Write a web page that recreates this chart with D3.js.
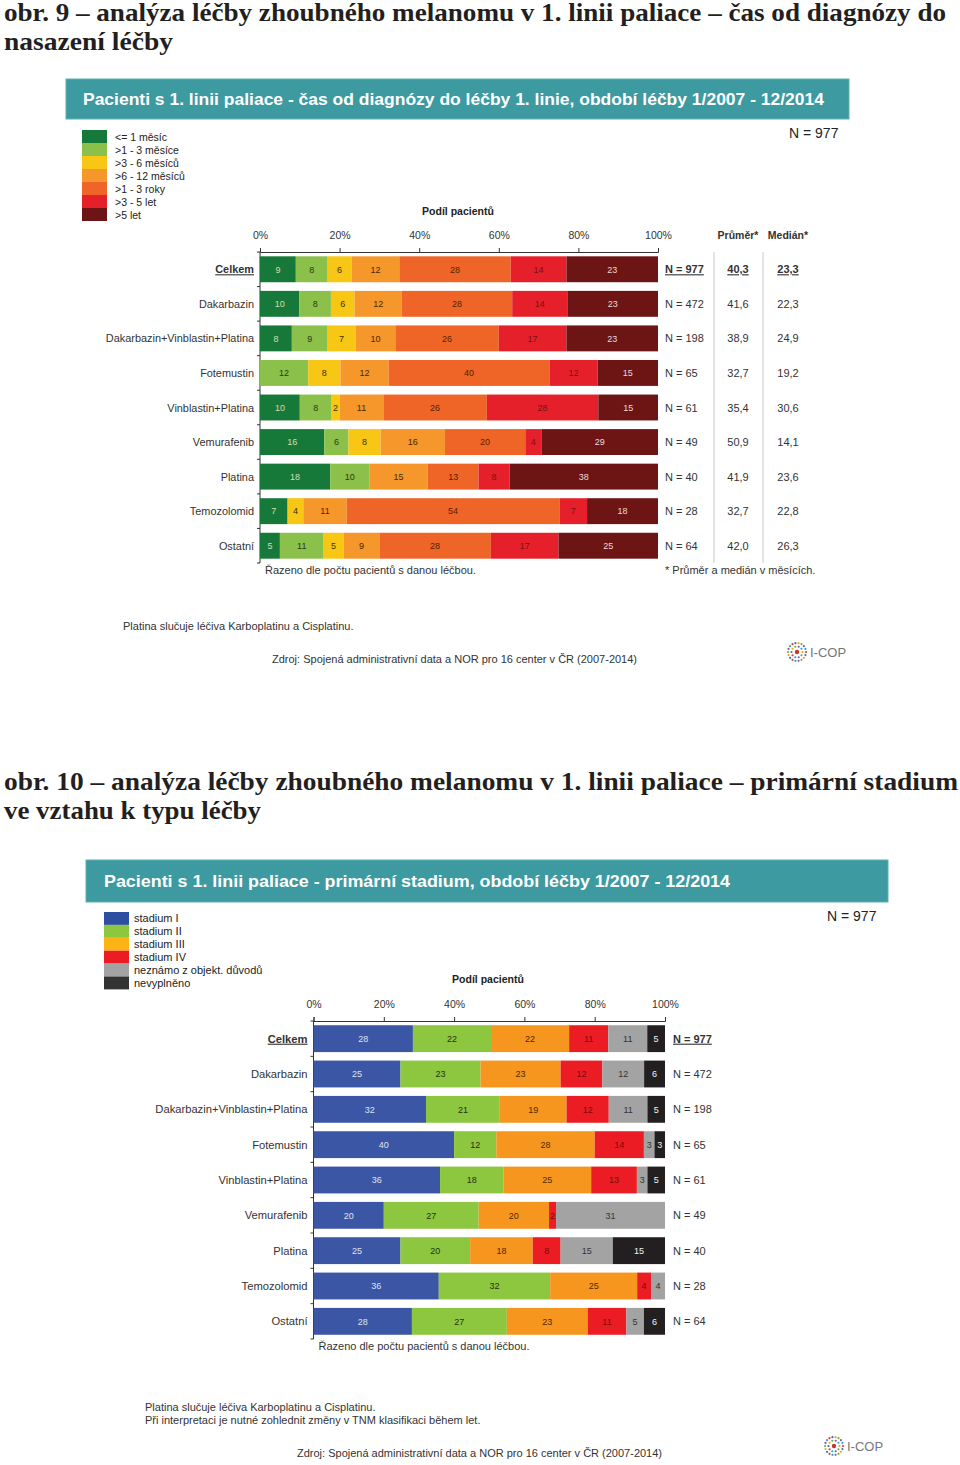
<!DOCTYPE html>
<html><head><meta charset="utf-8">
<script src="https://cdn.jsdelivr.net/npm/d3@7"></script>
<style>body{margin:0;background:#fff} svg{display:block} text{font-family:"Liberation Sans",Arial,sans-serif}</style>
</head><body><svg id="c" width="960" height="1465"></svg>
<script>
// ---------- DATA ----------
const categories = ["Celkem","Dakarbazin","Dakarbazin+Vinblastin+Platina","Fotemustin","Vinblastin+Platina","Vemurafenib","Platina","Temozolomid","Ostatní"];
const tickLabels = ["0%","20%","40%","60%","80%","100%"];
const nLabels = ["N = 977","N = 472","N = 198","N = 65","N = 61","N = 49","N = 40","N = 28","N = 64"];

// Chart 1 (obr. 9): time from diagnosis to treatment, % of patients
const durationSeries = ["<= 1 měsíc",">1 - 3 měsíce",">3 - 6 měsíců",">6 - 12 měsíců",">1 - 3 roky",">3 - 5 let",">5 let"];
const durUpTo1m   = [9,10,8,0,10,16,18,7,5];
const dur1to3m    = [8,8,9,12,8,6,10,0,11];
const dur3to6m    = [6,6,7,8,2,8,0,4,5];
const dur6to12m   = [12,12,10,12,11,16,15,11,9];
const dur1to3y    = [28,28,26,40,26,20,13,54,28];
const dur3to5y    = [14,14,17,12,28,4,8,7,17];
const durOver5y   = [23,23,23,15,15,29,38,18,25];
const meanMonths   = ["40,3","41,6","38,9","32,7","35,4","50,9","41,9","32,7","42,0"];
const medianMonths = ["23,3","22,3","24,9","19,2","30,6","14,1","23,6","22,8","26,3"];

// Chart 2 (obr. 10): primary stage, % of patients
const stageSeries = ["stadium I","stadium II","stadium III","stadium IV","neznámo z objekt. důvodů","nevyplněno"];
const stageI    = [28,25,32,40,36,20,25,36,28];
const stageII   = [22,23,21,12,18,27,20,32,27];
const stageIII  = [22,23,19,28,25,20,18,25,23];
const stageIV   = [11,12,12,14,13,2,8,4,11];
const stageUnk  = [11,12,11,3,3,31,15,4,5];
const stageNA   = [5,6,5,3,5,0,15,0,6];

// ---------- DRAWING ----------
const svg = d3.select("#c");
svg.append("rect").attr("width",960).attr("height",1465).attr("fill","#fff");

function heading(lines, ys, widths){
  lines.forEach((t,i)=>{
    const el = svg.append("text").attr("x",4).attr("y",ys[i])
      .style("font-family","'Liberation Serif','DejaVu Serif',serif")
      .attr("font-weight","bold").attr("font-size",25).attr("fill","#231f20").text(t);
    if(widths[i]) el.attr("textLength",widths[i]).attr("lengthAdjust","spacingAndGlyphs");
  });
}

function chart(o){
  const g = svg.append("g");
  // teal header
  g.append("rect").attr("x",o.hx0).attr("y",o.hy0).attr("width",o.hx1-o.hx0).attr("height",o.hh)
    .attr("fill","#3d9aa1").attr("stroke","#5fb0b5").attr("stroke-width",1);
  g.append("text").attr("x",o.htx).attr("y",o.hy0+o.hh/2+6).attr("fill","#fff").attr("font-weight","bold")
    .attr("font-size",17).attr("textLength",o.htw).attr("lengthAdjust","spacingAndGlyphs").text(o.title);
  g.append("text").attr("x",o.nTotX).attr("y",o.nTotY).attr("font-size",14).attr("fill","#222").text("N = 977");

  // legend
  const lg = g.append("g");
  o.series.forEach((s,i)=>{
    lg.append("rect").attr("x",o.lx).attr("y",o.ly+i*o.lstep).attr("width",25).attr("height",o.lstep).attr("fill",o.legendColors[i]);
    lg.append("text").attr("x",o.lx+o.ltx).attr("y",o.ly+i*o.lstep+o.lstep-2.5).attr("font-size",o.lfs).attr("fill","#222").text(s);
  });

  // data
  const rows = categories.map((c,i)=>{const r={cat:c}; o.series.forEach((s,j)=>r[s]=o.values[j][i]); return r;});
  const layers = d3.stack().keys(o.series).offset(d3.stackOffsetExpand)(rows);
  const x = d3.scaleLinear().domain([0,1]).range([o.x0,o.x1]);
  const pad = o.pad;
  const y = d3.scaleBand().domain(categories).range([o.y0,o.y1]).paddingInner(pad).paddingOuter(pad/2);

  g.append("text").attr("x",o.podilX).attr("y",o.podilY).attr("text-anchor","middle").attr("font-weight","bold")
    .attr("font-size",10.5).attr("fill","#222").text("Podíl pacientů");

  // top axis
  const xAxis = d3.axisTop(x).tickValues(d3.range(0,1.0001,0.2)).tickFormat((d,i)=>tickLabels[i]).tickSize(4).tickPadding(9);
  const ax = g.append("g").attr("transform",`translate(0,${o.y0})`).call(xAxis);
  ax.selectAll("path,line").attr("stroke","#333");
  ax.selectAll("text").attr("font-size",10.5).attr("fill","#333").attr("font-family","'Liberation Sans',Arial,sans-serif");

  // left axis line with ticks at band boundaries
  g.append("line").attr("x1",o.x0).attr("x2",o.x0).attr("y1",o.y0).attr("y2",o.y1).attr("stroke","#333");
  g.selectAll(".lt").data(d3.range(categories.length+1)).join("line")
    .attr("x1",o.x0-3).attr("x2",o.x0).attr("y1",i=>o.y0+i*y.step()).attr("y2",i=>o.y0+i*y.step()).attr("stroke","#333");

  // bars
  layers.forEach((L,j)=>{
    const lyr = g.append("g");
    lyr.selectAll("rect").data(L).join("rect")
      .attr("x",d=>x(d[0])).attr("y",d=>y(d.data.cat)).attr("width",d=>x(d[1])-x(d[0])).attr("height",y.bandwidth())
      .attr("fill",o.colors[j]);
    lyr.selectAll("text").data(L.filter(d=>d.data[o.series[j]]>0)).join("text")
      .attr("x",d=>(x(d[0])+x(d[1]))/2).attr("y",d=>y(d.data.cat)+y.bandwidth()/2+3.3)
      .attr("text-anchor","middle").attr("font-size",9).attr("fill",o.labelColors[j])
      .text(d=>d.data[o.series[j]]);
  });

  // category labels
  g.selectAll(".cl").data(categories).join("text")
    .attr("x",o.x0-6).attr("y",d=>y(d)+y.bandwidth()/2+4).attr("text-anchor","end")
    .attr("font-size",o.cfs).attr("fill","#333")
    .attr("font-weight",(d,i)=>i===0?"bold":null)
    .attr("text-decoration",(d,i)=>i===0?"underline":null)
    .text(d=>d);
  // N labels
  g.selectAll(".nl").data(nLabels).join("text")
    .attr("x",o.nX).attr("y",(d,i)=>y(categories[i])+y.bandwidth()/2+4)
    .attr("font-size",11).attr("fill","#333")
    .attr("font-weight",(d,i)=>i===0?"bold":null)
    .attr("text-decoration",(d,i)=>i===0?"underline":null)
    .text(d=>d);

  if(o.stats){
    [[o.stats.meanX,meanMonths,"Průměr*"],[o.stats.medX,medianMonths,"Medián*"]].forEach(([cx,vals,hdr])=>{
      g.append("text").attr("x",cx).attr("y",o.tickY).attr("text-anchor","middle").attr("font-weight","bold")
        .attr("font-size",10.5).attr("fill","#333").text(hdr);
      g.selectAll(null).data(vals).join("text")
        .attr("x",cx).attr("y",(d,i)=>y(categories[i])+y.bandwidth()/2+4).attr("text-anchor","middle")
        .attr("font-size",11).attr("fill","#333")
        .attr("font-weight",(d,i)=>i===0?"bold":null)
        .attr("text-decoration",(d,i)=>i===0?"underline":null)
        .text(d=>d);
    });
    o.stats.lines.forEach(lx=>g.append("line").attr("x1",lx).attr("x2",lx).attr("y1",o.y0).attr("y2",o.y1).attr("stroke","#c8c8c8"));
    g.append("text").attr("x",o.nX).attr("y",o.y1+11).attr("font-size",11).attr("fill","#333").text("* Průměr a medián v měsících.");
  }
  g.append("text").attr("x",o.x0+5).attr("y",o.y1+11).attr("font-size",11).attr("fill","#333").text("Řazeno dle počtu pacientů s danou léčbou.");

  o.notes.forEach((t,i)=>g.append("text").attr("x",o.noteX).attr("y",o.noteY+i*13).attr("font-size",11).attr("fill","#333").text(t));
  g.append("text").attr("x",o.srcX).attr("y",o.srcY).attr("font-size",11).attr("fill","#333").text("Zdroj: Spojená administrativní data a NOR pro 16 center v ČR (2007-2014)");

  // logo
  const lgx=o.logoX, lgy=o.logoY;
  const lc=["#e23b2a","#3d6fb4","#f2a31b","#6cb33f","#8a5aa8","#2aa7c8"];
  d3.range(18).forEach(k=>{const a=k/18*Math.PI*2; g.append("circle").attr("cx",lgx+Math.cos(a)*9).attr("cy",lgy+Math.sin(a)*9).attr("r",1.1).attr("fill",lc[k%6]);});
  d3.range(10).forEach(k=>{const a=k/10*Math.PI*2; g.append("circle").attr("cx",lgx+Math.cos(a)*5.5).attr("cy",lgy+Math.sin(a)*5.5).attr("r",1.1).attr("fill",lc[(k+2)%6]);});
  g.append("circle").attr("cx",lgx).attr("cy",lgy).attr("r",2.2).attr("fill","#c0392b");
  g.append("text").attr("x",lgx+13).attr("y",lgy+5).attr("font-size",13).attr("fill","#777").text("I-COP");
}

heading(["obr. 9 – analýza léčby zhoubného melanomu v 1. linii paliace – čas od diagnózy do","nasazení léčby"],[21,50],[942,169]);
chart({
  title:"Pacienti s 1. linii paliace - čas od diagnózy do léčby 1. linie, období léčby 1/2007 - 12/2014",
  hx0:66,hx1:849,hy0:79,hh:40,htx:83,htw:741, nTotX:789,nTotY:138,
  series:durationSeries, values:[durUpTo1m,dur1to3m,dur3to6m,dur6to12m,dur1to3y,dur3to5y,durOver5y],
  colors:["#16793a","#8bc04a","#f8c614","#f5972a","#ef6527","#e5202b","#6d1414"],
  legendColors:["#16793a","#8bc04a","#f8c614","#f5972a","#ef6527","#e5202b","#6d1414"],
  labelColors:["#d7dcae","#2b3a12","#3b3000","#4a2800","#5a1e00","#7a1010","#eadada"],
  lx:82,ly:130,lstep:13,ltx:33,lfs:10.5,cfs:10.9,
  x0:260,x1:658,y0:252,y1:563,pad:0.25,
  podilX:458,podilY:215,tickY:239,
  nX:665, stats:{meanX:738,medX:788,lines:[714,763]},
  notes:["Platina slučuje léčiva Karboplatinu a Cisplatinu."], noteX:123,noteY:630,
  srcX:272,srcY:663, logoX:797,logoY:652
});

heading(["obr. 10 – analýza léčby zhoubného melanomu v 1. linii paliace – primární stadium","ve vztahu k typu léčby"],[790,819],[954,257]);
chart({
  title:"Pacienti s 1. linii paliace - primární stadium, období léčby 1/2007 - 12/2014",
  hx0:86,hx1:888,hy0:860,hh:42,htx:104,htw:626, nTotX:827,nTotY:921,
  series:stageSeries, values:[stageI,stageII,stageIII,stageIV,stageUnk,stageNA],
  colors:["#3b56a5","#8dc63f","#f7961e","#ec1c24","#a3a3a3","#231f20"],
  legendColors:["#2d4fa0","#8dc63f","#fbb414","#ec1c24","#a3a3a3","#333333"],
  labelColors:["#dfe3f0","#24330f","#4a2a00","#7a0a0a","#333","#f2f2f2"],
  lx:104,ly:912,lstep:12.9,ltx:30,lfs:11,cfs:11.2,
  x0:313.5,x1:665,y0:1021,y1:1339,pad:0.24,
  podilX:488,podilY:983,tickY:1007,
  nX:673, stats:null,
  notes:["Platina slučuje léčiva Karboplatinu a Cisplatinu.","Při interpretaci je nutné zohlednit změny v TNM klasifikaci během let."], noteX:145,noteY:1411,
  srcX:297,srcY:1457, logoX:834,logoY:1446
});
</script></body></html>
